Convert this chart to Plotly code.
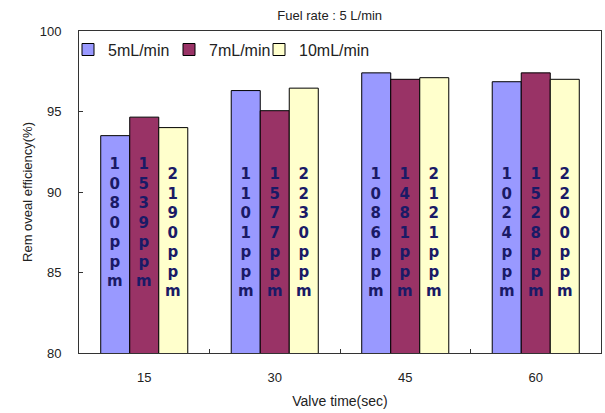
import plotly.graph_objects as go

# Valve time categories (sec)
valve_time = ["15", "30", "45", "60"]

# Removal efficiency (%) for each water injection rate
eff_5ml = [93.5, 96.3, 97.4, 96.85]
eff_7ml = [94.65, 95.05, 97.0, 97.4]
eff_10ml = [94.0, 96.45, 97.1, 97.0]

# Measured concentrations (ppm) shown on each bar
ppm_5ml = ["1080", "1101", "1086", "1024"]
ppm_7ml = ["1539", "1577", "1481", "1528"]
ppm_10ml = ["2190", "2230", "2121", "2200"]

series_names = ["5mL/min", "7mL/min", "10mL/min"]
series_vals = [eff_5ml, eff_7ml, eff_10ml]
series_ppm = [ppm_5ml, ppm_7ml, ppm_10ml]
colors = ["#9999FF", "#993366", "#FFFFCC"]

FONT = "Liberation Sans, Arial, sans-serif"
PLOT_L, PLOT_W = 79, 522

fig = go.Figure()
legend_ids = ["legend", "legend2", "legend3"]
for name, vals, col, lg in zip(series_names, series_vals, colors, legend_ids):
    fig.add_trace(go.Bar(
        x=valve_time, y=vals, name=name, legend=lg,
        marker=dict(color=col, line=dict(color="#000000", width=1)),
    ))

# vertical stacked ppm labels inside the bars (annotation x is the category index)
bar_px = 29
annotations = []
for si, ppm in enumerate(series_ppm):
    for ci, val in enumerate(ppm):
        chars = list(val) + ["p", "p", "m"]
        top = 92.45 if (ci == 0 and si < 2) else 91.8
        annotations.append(dict(
            x=ci, y=top, xref="x", yref="y",
            text="<br>".join(chars), showarrow=False,
            xshift=(si - 1) * bar_px, yanchor="top", xanchor="center",
            font=dict(family="DejaVu Sans, sans-serif", size=15, color="#1a1a66", weight="bold"),
            align="center",
        ))

# one legend box per series so the entries sit in a single row
legend_px = [68, 169, 259]
legends = {}
for lg, px in zip(legend_ids, legend_px):
    legends[lg] = dict(
        x=(px - PLOT_L) / PLOT_W, y=0.995, xanchor="left", yanchor="top",
        bgcolor="rgba(0,0,0,0)", font=dict(family=FONT, size=16, color="#222222"),
        itemwidth=30,
    )

fig.update_layout(
    width=605, height=413,
    margin=dict(l=PLOT_L, r=4, t=31, b=60),
    paper_bgcolor="white", plot_bgcolor="white",
    barmode="group", bargap=0.333, bargroupgap=0,
    font=dict(family=FONT, size=13, color="#222222"),
    title=dict(text="Fuel rate : 5 L/min", x=0.545, xanchor="center", y=0.963, yanchor="middle",
               font=dict(family=FONT, size=13, color="#222222")),
    annotations=annotations,
    showlegend=True,
    **legends,
)

fig.update_xaxes(
    type="category", range=[-0.5, 3.5], autorange=False,
    showline=True, linecolor="#333333", linewidth=1, mirror=True,
    ticks="inside", tickson="boundaries", ticklen=4, tickcolor="#333333",
    showgrid=False, tickfont=dict(family=FONT, size=13), ticklabelstandoff=12,
    title=dict(text="Valve time(sec)", font=dict(family=FONT, size=14), standoff=12),
)
fig.update_yaxes(
    range=[80, 100], tickvals=[80, 85, 90, 95, 100],
    showline=True, linecolor="#333333", linewidth=1, mirror=True,
    ticks="inside", ticklen=4, tickcolor="#333333", showgrid=False, zeroline=False,
    tickfont=dict(family=FONT, size=13), ticklabelstandoff=14,
    title=dict(text="Rem oveal efficiency(%)", font=dict(family=FONT, size=13), standoff=4),
)

fig.write_html("out.html")
